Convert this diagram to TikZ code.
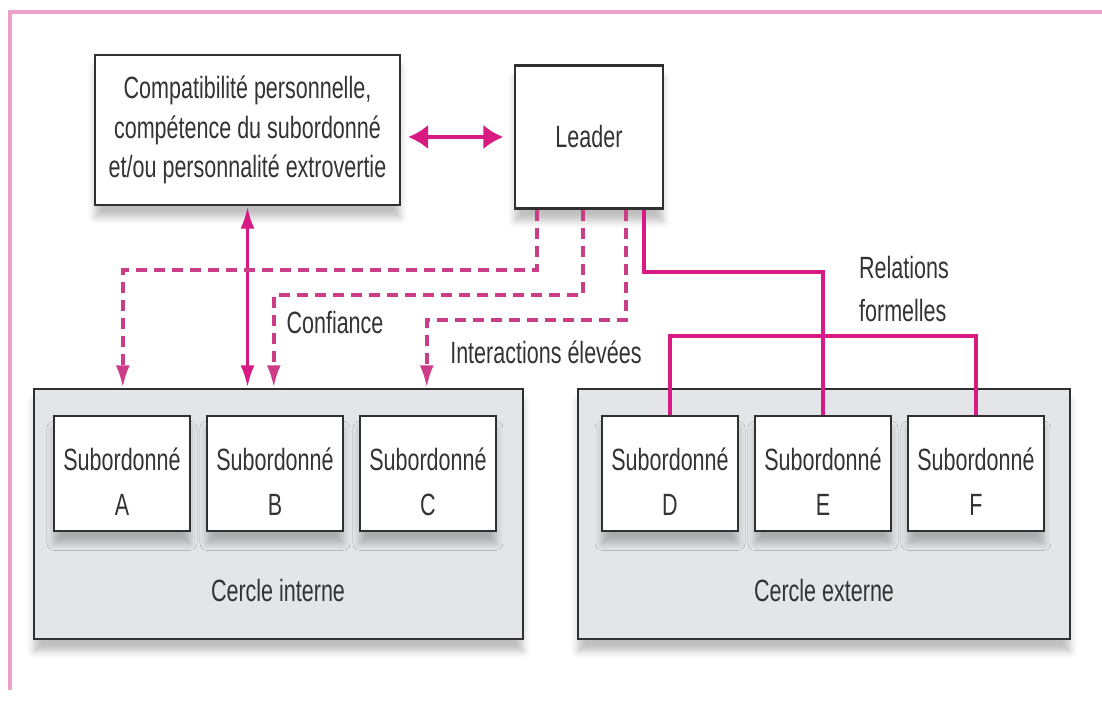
\documentclass[tikz,border=0pt]{standalone}
\usepackage{fontspec}
\setmainfont{Liberation Sans}[FakeStretch=0.70]
\usepackage{tikz}
\usetikzlibrary{arrows.meta, shadows.blur}
\definecolor{pinkline}{HTML}{D81B82}
\definecolor{pinkdash}{HTML}{CC3D88}
\definecolor{framepink}{HTML}{EBA2C6}
\definecolor{circlegray}{HTML}{E3E5E8}
\definecolor{edgegray}{HTML}{303030}

\begin{document}
\begin{tikzpicture}[x=0.02cm, y=-0.02cm, node distance=3.06 cm, font=\fontsize{17.5}{22.5}\selectfont, text=black!80]
\tikzstyle{process} = [rectangle, text centered, align=center, draw=edgegray, line width=1.4 pt, fill=white, blur shadow={shadow xshift=0pt, shadow yshift=-7pt, shadow blur radius=4pt, shadow blur extra rounding=0pt, shadow opacity=25}]
\tikzstyle{circlebox} = [process, fill=circlegray, minimum width=9.78 cm, minimum height=5 cm]
\tikzstyle{subbox} = [process, minimum width=2.72 cm, minimum height=2.3 cm, text height=1.67 cm]
\tikzstyle{trust} = [dash pattern=on 0.22 cm off 0.14 cm, line width=2.1 pt, draw=pinkdash, -{Latex[length=0.45cm, width=0.28cm]}]
\tikzstyle{formal} = [line width=2.1 pt, draw=pinkline]

\useasboundingbox (0,0) rectangle (1102,701);
\draw [framepink, line width=1.8 pt] (10,690) -- (10,12) -- (1102,12);

\node (inner) [circlebox] at (278.5,514) {};
\node (outer) [circlebox, minimum width=9.84 cm] at (824,514) {};
\node (innerlbl) at (278,590) {Cercle interne};
\node (outerlbl) at (824,590) {Cercle externe};

\node (A) [subbox] at (122,473.5) {Subordonné\\[3pt]A};
\node (B) [subbox, right of=A] {Subordonné\\[3pt]B};
\node (C) [subbox, right of=B] {Subordonné\\[3pt]C};
\node (D) [subbox] at (670,473.5) {Subordonné\\[3pt]D};
\node (E) [subbox, right of=D] {Subordonné\\[3pt]E};
\node (F) [subbox, right of=E] {Subordonné\\[3pt]F};

\node (compat) [process, minimum width=6.1 cm, minimum height=3 cm] at (247.5,130) {Compatibilité personnelle,\\compétence du subordonné\\et/ou personnalité extrovertie};
\node (leader) [process, minimum width=2.96 cm, minimum height=2.86 cm] at (589,137) {Leader};

\draw [{Latex[length=0.4cm, width=0.5cm]}-{Latex[length=0.4cm, width=0.5cm]}, line width=2.4 pt, pinkline, shorten <=4pt, shorten >=6pt] (compat.east |- leader.west) -- (leader.west);
\draw [{Latex[length=0.45cm, width=0.28cm]}-{Latex[length=0.45cm, width=0.28cm]}, line width=2.1 pt, pinkline] (compat.south) -- (compat.south |- inner.north);

\draw [trust] ([xshift=0.46 cm]leader.south west) -- ++(0,60) -| ([xshift=1.8 cm]inner.north west);
\draw [trust] ([xshift=1.38 cm]leader.south west) -- ++(0,85) -| ([xshift=4.82 cm]inner.north west);
\draw [trust] ([xshift=2.24 cm]leader.south west) -- ++(0,110) -| ([xshift=7.88 cm]inner.north west);

\draw [formal] ([xshift=2.6 cm]leader.south west) -- ++(0,62) -| (E.north);
\draw [formal] (D.north) -- ++(0,-79) -| (F.north);

\node (conf) at (335,322) {Confiance};
\node (inter) at (546,352) {Interactions élevées};
\node (formlbl) [align=left, font=\fontsize{17.5}{24}\selectfont] at (904,289) {Relations\\formelles};

\end{tikzpicture}
\end{document}
